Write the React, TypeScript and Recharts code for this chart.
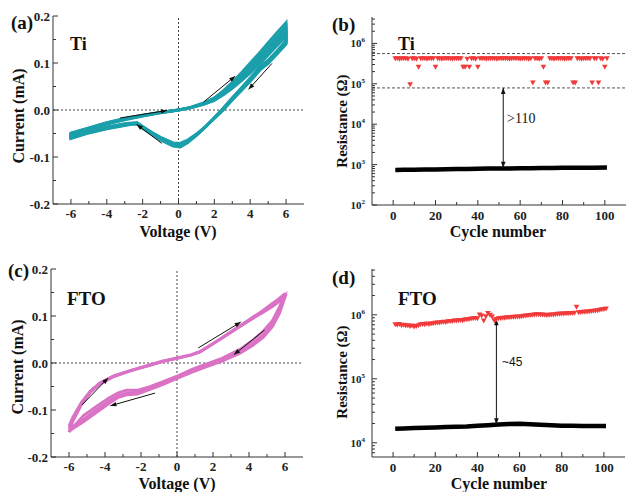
import React from 'react';
import { ComposedChart, Line, Scatter, XAxis, YAxis, ReferenceLine } from 'recharts';

const SERIF = '"Liberation Serif", "Times New Roman", serif';
const SANS = '"Liberation Sans", Arial, sans-serif';

// ---------- Data ----------
type Pt = [number, number];

// Panel (a) Ti : I-V loops (V, mA) in sweep order 0 -> 6 -> 0 -> -6 -> 0
const tiLoop1: Pt[] = [
  [0, 0], [0.7, 0.006], [1.4, 0.015], [2.0, 0.026], [2.5, 0.041], [3.0, 0.059], [3.5, 0.079], [4.0, 0.1], [4.5, 0.121], [5.0, 0.143], [5.5, 0.165], [6.0, 0.186],
  [6.0, 0.148], [5.5, 0.126], [5.0, 0.106], [4.6, 0.094], [4.0, 0.068], [3.5, 0.047], [3.0, 0.026], [2.4, 0.0], [2.0, -0.016], [1.5, -0.036], [1.0, -0.054], [0.5, -0.07], [0.1, -0.079], [-0.3, -0.077], [-1.0, -0.064], [-1.5, -0.052], [-2.0, -0.039], [-2.3, -0.03], [-2.7, -0.031], [-3.0, -0.033], [-4.0, -0.04], [-5.0, -0.049], [-6.0, -0.061],
  [-6.0, -0.053], [-5.0, -0.041], [-4.0, -0.03], [-3.0, -0.021], [-2.0, -0.013], [-1.0, -0.006], [0, 0],
];
const tiLoop2: Pt[] = [
  [0, 0], [0.7, 0.0055], [1.4, 0.014], [2.0, 0.0245], [2.5, 0.038], [3.0, 0.055], [3.5, 0.074], [4.0, 0.094], [4.5, 0.114], [5.0, 0.136], [5.5, 0.157], [6.0, 0.178],
  [6.0, 0.146], [5.5, 0.124], [5.0, 0.104], [4.6, 0.092], [4.0, 0.066], [3.5, 0.045], [3.0, 0.024], [2.42, 0.0], [2.0, -0.0165], [1.5, -0.036], [1.0, -0.0535], [0.5, -0.0685], [0.1, -0.077], [-0.3, -0.075], [-1.0, -0.0625], [-1.5, -0.0505], [-2.0, -0.038], [-2.3, -0.029], [-2.7, -0.03], [-3.0, -0.032], [-4.0, -0.039], [-5.0, -0.048], [-6.0, -0.0595],
  [-6.0, -0.0515], [-5.0, -0.04], [-4.0, -0.029], [-3.0, -0.02], [-2.0, -0.0125], [-1.0, -0.0055], [0, 0],
];
const tiLoop3: Pt[] = [
  [0, 0], [0.7, 0.005], [1.4, 0.013], [2.0, 0.023], [2.5, 0.036], [3.0, 0.052], [3.5, 0.07], [4.0, 0.089], [4.5, 0.108], [5.0, 0.129], [5.5, 0.15], [6.0, 0.171],
  [6.0, 0.144], [5.5, 0.122], [5.0, 0.102], [4.6, 0.09], [4.0, 0.064], [3.5, 0.044], [3.0, 0.023], [2.45, 0.0], [2.0, -0.017], [1.5, -0.036], [1.0, -0.053], [0.5, -0.067], [0.1, -0.075], [-0.3, -0.073], [-1.0, -0.061], [-1.5, -0.049], [-2.0, -0.037], [-2.3, -0.028], [-2.7, -0.029], [-3.0, -0.031], [-4.0, -0.038], [-5.0, -0.047], [-6.0, -0.058],
  [-6.0, -0.05], [-5.0, -0.039], [-4.0, -0.028], [-3.0, -0.019], [-2.0, -0.012], [-1.0, -0.005], [0, 0],
];
const tiLoop4: Pt[] = [
  [0, 0], [0.7, 0.005], [1.4, 0.0125], [2.0, 0.0215], [2.5, 0.034], [3.0, 0.049], [3.5, 0.066], [4.0, 0.084], [4.5, 0.1025], [5.0, 0.123], [5.5, 0.1435], [6.0, 0.164],
  [6.0, 0.142], [5.5, 0.1205], [5.0, 0.1005], [4.6, 0.0885], [4.0, 0.0625], [3.5, 0.0425], [3.0, 0.022], [2.47, 0.0], [2.0, -0.0175], [1.5, -0.0355], [1.0, -0.052], [0.5, -0.0655], [0.1, -0.073], [-0.3, -0.0715], [-1.0, -0.0595], [-1.5, -0.048], [-2.0, -0.036], [-2.3, -0.0275], [-2.7, -0.0285], [-3.0, -0.03], [-4.0, -0.037], [-5.0, -0.046], [-6.0, -0.057],
  [-6.0, -0.0495], [-5.0, -0.0385], [-4.0, -0.0275], [-3.0, -0.0185], [-2.0, -0.0115], [-1.0, -0.005], [0, 0],
];
const tiLoop5: Pt[] = [
  [0, 0], [0.7, 0.005], [1.4, 0.012], [2.0, 0.02], [2.5, 0.032], [3.0, 0.046], [3.5, 0.062], [4.0, 0.079], [4.5, 0.097], [5.0, 0.117], [5.5, 0.137], [6.0, 0.157],
  [6.0, 0.14], [5.5, 0.119], [5.0, 0.099], [4.6, 0.087], [4.0, 0.061], [3.5, 0.041], [3.0, 0.021], [2.5, 0.0], [2.0, -0.018], [1.5, -0.035], [1.0, -0.051], [0.5, -0.064], [0.1, -0.071], [-0.3, -0.07], [-1.0, -0.058], [-1.5, -0.047], [-2.0, -0.035], [-2.3, -0.027], [-2.7, -0.028], [-3.0, -0.029], [-4.0, -0.036], [-5.0, -0.045], [-6.0, -0.056],
  [-6.0, -0.049], [-5.0, -0.038], [-4.0, -0.027], [-3.0, -0.018], [-2.0, -0.011], [-1.0, -0.005], [0, 0],
];
// sweep arrows for (a): [V1, I1, V2, I2] (head at second point)
const tiArrows: number[][] = [
  [-3.26, -0.017, -0.65, -0.001],
  [-0.93, -0.071, -2.33, -0.031],
  [1.4, 0.017, 3.16, 0.072],
  [5.21, 0.099, 3.91, 0.044],
];

// Panel (c) FTO : I-V loops in sweep order -6 -> 6 (upper) -> -6 (lower)
const ftoLoop1: Pt[] = [
  [-6, -0.147], [-5.8, -0.125], [-5.3, -0.088], [-4.8, -0.062], [-4.3, -0.045], [-3.5, -0.029], [-2.5, -0.016], [-1.5, -0.005], [-0.8, 0.003], [0, 0.01], [0.8, 0.017], [1.3, 0.024], [1.8, 0.036], [2.5, 0.053], [3.2, 0.07], [4.0, 0.09], [4.7, 0.108], [5.3, 0.125], [6.0, 0.148],
  [5.7, 0.12], [5.3, 0.09], [4.8, 0.068], [4.2, 0.048], [3.5, 0.029], [2.5, 0.01], [1.5, -0.004], [0.8, -0.014], [0, -0.028], [-0.8, -0.04], [-1.5, -0.05], [-2.2, -0.058], [-2.8, -0.058], [-3.3, -0.064], [-3.8, -0.075], [-4.5, -0.093], [-5.2, -0.112], [-6.0, -0.147],
];
const ftoLoop2: Pt[] = [
  [-6, -0.14], [-5.8, -0.12], [-5.3, -0.085], [-4.8, -0.06], [-4.3, -0.043], [-3.5, -0.027], [-2.5, -0.015], [-1.5, -0.004], [-0.8, 0.004], [0, 0.011], [0.8, 0.018], [1.3, 0.025], [1.8, 0.037], [2.5, 0.054], [3.2, 0.072], [4.0, 0.092], [4.7, 0.11], [5.3, 0.127], [6.0, 0.145],
  [5.7, 0.112], [5.3, 0.082], [4.8, 0.06], [4.2, 0.041], [3.5, 0.024], [2.5, 0.006], [1.5, -0.008], [0.8, -0.018], [0, -0.031], [-0.8, -0.043], [-1.5, -0.053], [-2.2, -0.062], [-2.8, -0.064], [-3.3, -0.07], [-3.8, -0.082], [-4.5, -0.1], [-5.2, -0.12], [-6.0, -0.14],
];
const ftoLoop3: Pt[] = [
  [-6, -0.134], [-5.8, -0.116], [-5.3, -0.083], [-4.8, -0.059], [-4.3, -0.043], [-3.5, -0.027], [-2.5, -0.015], [-1.5, -0.004], [-0.8, 0.004], [0, 0.01], [0.8, 0.017], [1.3, 0.024], [1.8, 0.036], [2.5, 0.053], [3.2, 0.071], [4.0, 0.09], [4.7, 0.106], [5.3, 0.12], [6.0, 0.14],
  [5.7, 0.106], [5.3, 0.077], [4.8, 0.055], [4.2, 0.037], [3.5, 0.021], [2.5, 0.004], [1.5, -0.01], [0.8, -0.02], [0, -0.033], [-0.8, -0.046], [-1.5, -0.056], [-2.2, -0.066], [-2.8, -0.068], [-3.3, -0.074], [-3.8, -0.087], [-4.5, -0.106], [-5.2, -0.125], [-6.0, -0.145],
];
const ftoArrows: number[][] = [
  [-5.27, -0.089, -3.83, -0.032],
  [-1.22, -0.064, -3.7, -0.091],
  [1.18, 0.032, 3.54, 0.087],
  [4.86, 0.07, 3.17, 0.018],
];

// Panel (b) Ti : resistance (Ohm) per cycle, cycles 1..101
const tiHRS: number[] = [
  4.2e5, 4.2e5, 4.1e5, 4.2e5, 4.2e5, 4.2e5, 4.1e5, 9.5e4, 4.2e5, 4.2e5,
  4.1e5, 2.6e5, 4.2e5, 4.2e5, 4.2e5, 4.1e5, 4.2e5, 4.2e5, 4.2e5, 2.6e5,
  4.2e5, 4.2e5, 4.1e5, 4.2e5, 4.2e5, 4.2e5, 4.2e5, 4.1e5, 4.2e5, 4.2e5,
  4.2e5, 4.2e5, 2.6e5, 2.6e5, 4.1e5, 2.6e5, 4.2e5, 4.2e5, 4.1e5, 2.6e5,
  4.2e5, 4.2e5, 4.2e5, 4.1e5, 4.2e5, 4.2e5, 4.2e5, 4.2e5, 4.1e5, 4.2e5,
  4.2e5, 4.2e5, 4.2e5, 4.2e5, 4.1e5, 4.2e5, 4.2e5, 4.2e5, 4.2e5, 4.1e5,
  4.2e5, 4.2e5, 4.2e5, 4.1e5, 4.2e5, 1.05e5, 4.2e5, 4.2e5, 4.1e5, 4.2e5,
  2.6e5, 1.05e5, 1.05e5, 4.2e5, 4.2e5, 4.1e5, 4.2e5, 4.2e5, 4.2e5, 4.2e5,
  4.1e5, 4.2e5, 4.2e5, 4.2e5, 1.05e5, 1.05e5, 4.2e5, 4.2e5, 4.1e5, 4.2e5,
  4.2e5, 4.2e5, 4.2e5, 1.05e5, 4.2e5, 4.2e5, 1.05e5, 4.2e5, 4.1e5, 2.6e5,
  4.2e5,
];
const tiLRSCycles: number[] = [1, 5, 10, 15, 20, 25, 30, 35, 40, 45, 50, 55, 60, 65, 70, 75, 80, 85, 90, 95, 101];
const tiLRS: number[] = [740, 745, 750, 755, 760, 770, 775, 780, 790, 795, 800, 805, 810, 815, 820, 825, 830, 830, 835, 840, 845];

// Panel (d) FTO
const ftoHRS: number[] = [
  7.0e5, 6.9e5, 7.1e5, 6.8e5, 6.9e5, 6.7e5, 6.8e5, 6.6e5, 6.7e5, 6.5e5,
  6.6e5, 6.8e5, 7.0e5, 7.1e5, 7.0e5, 7.2e5, 7.1e5, 7.2e5, 7.3e5, 7.4e5,
  7.5e5, 7.5e5, 7.6e5, 7.7e5, 7.6e5, 7.8e5, 7.9e5, 7.9e5, 8.0e5, 8.0e5,
  8.1e5, 8.2e5, 8.1e5, 8.3e5, 8.4e5, 8.5e5, 8.6e5, 8.7e5, 8.8e5, 8.7e5,
  1.0e6, 9.6e5, 8.0e5, 9.4e5, 1.05e6, 9.9e5, 9.3e5, 8.1e5, 8.5e5, 8.7e5,
  8.8e5, 8.9e5, 8.9e5, 9.0e5, 9.0e5, 9.1e5, 9.2e5, 9.2e5, 9.3e5, 9.3e5,
  9.4e5, 9.5e5, 9.6e5, 9.7e5, 9.8e5, 9.9e5, 1.0e6, 1.01e6, 1.01e6, 1.0e6,
  1.0e6, 9.9e5, 9.8e5, 9.9e5, 1.0e6, 1.0e6, 1.01e6, 1.02e6, 1.02e6, 1.03e6,
  1.03e6, 1.04e6, 1.04e6, 1.05e6, 1.05e6, 1.06e6, 1.32e6, 1.08e6, 1.09e6, 1.1e6,
  1.1e6, 1.11e6, 1.12e6, 1.13e6, 1.14e6, 1.15e6, 1.16e6, 1.18e6, 1.2e6, 1.22e6,
  1.24e6,
];
const ftoLRSCycles: number[] = [1, 5, 10, 15, 20, 25, 30, 35, 40, 45, 50, 55, 60, 65, 70, 75, 80, 85, 90, 95, 101];
const ftoLRS: number[] = [1.66e4, 1.68e4, 1.7e4, 1.72e4, 1.74e4, 1.76e4, 1.78e4, 1.8e4, 1.84e4, 1.88e4, 1.93e4, 1.97e4, 1.98e4, 1.95e4, 1.92e4, 1.88e4, 1.85e4, 1.84e4, 1.83e4, 1.83e4, 1.83e4];

// Ticks
const IV_X_TICKS = [-6, -5, -4, -3, -2, -1, 0, 1, 2, 3, 4, 5, 6];
const IV_Y_TICKS = [-0.2, -0.15, -0.1, -0.05, 0, 0.05, 0.1, 0.15, 0.2];
const CYC_TICKS = [0, 10, 20, 30, 40, 50, 60, 70, 80, 90, 100];
const TI_R_TICKS = [
  100, 200, 300, 400, 500, 600, 700, 800, 900,
  1e3, 2e3, 3e3, 4e3, 5e3, 6e3, 7e3, 8e3, 9e3,
  1e4, 2e4, 3e4, 4e4, 5e4, 6e4, 7e4, 8e4, 9e4,
  1e5, 2e5, 3e5, 4e5, 5e5, 6e5, 7e5, 8e5, 9e5,
  1e6, 2e6, 3e6, 4e6,
];
const FTO_R_TICKS = [
  7e3, 8e3, 9e3,
  1e4, 2e4, 3e4, 4e4, 5e4, 6e4, 7e4, 8e4, 9e4,
  1e5, 2e5, 3e5, 4e5, 5e5, 6e5, 7e5, 8e5, 9e5,
  1e6, 2e6, 3e6, 4e6, 5e6,
];

// ---------- helpers ----------
const toVI = (pts: Pt[]) => pts.map(([v, i]) => ({ v, i }));
const toCR = (vals: number[], cycles?: number[]) => vals.map((r, k) => ({ c: cycles ? cycles[k] : k + 1, r }));

const tickText = { fontFamily: SERIF, fontWeight: 700, fontSize: 13, fill: '#222' };
const AX = '#333';

function ArrowShape(props: any) {
  const { x1, y1, x2, y2, both } = props;
  const dx = x2 - x1, dy = y2 - y1;
  const len = Math.hypot(dx, dy) || 1;
  const ux = dx / len, uy = dy / len;
  const head = (x: number, y: number, ax: number, ay: number) => {
    const L = 6, W = 2.3;
    const bx = x - ax * L, by = y - ay * L;
    return `${x},${y} ${bx - ay * W},${by + ax * W} ${bx + ay * W},${by - ax * W}`;
  };
  return (
    <g>
      <line x1={x1} y1={y1} x2={x2} y2={y2} stroke="#111" strokeWidth={1} />
      <polygon points={head(x2, y2, ux, uy)} fill="#111" />
      {both && <polygon points={head(x1, y1, -ux, -uy)} fill="#111" />}
    </g>
  );
}

function IVXTick(p: any) {
  const v = p.payload.value;
  const major = Math.abs(v % 2) < 1e-9;
  return (
    <g>
      <line x1={p.x} x2={p.x} y1={p.y} y2={p.y - (major ? 5 : 3)} stroke={AX} />
      {major && (
        <text x={p.x} y={p.y + 14} textAnchor="middle" style={tickText}>{String(v)}</text>
      )}
    </g>
  );
}
function IVYTick(p: any) {
  const v = p.payload.value;
  const major = Math.abs(Math.round(v * 10) - v * 10) < 1e-6;
  return (
    <g>
      <line x1={p.x} x2={p.x + (major ? 5 : 3)} y1={p.y} y2={p.y} stroke={AX} />
      {major && (
        <text x={p.x - 3} y={p.y + 4.5} textAnchor="end" style={tickText}>{v.toFixed(1)}</text>
      )}
    </g>
  );
}
function CycXTick(p: any) {
  const v = p.payload.value;
  const major = v % 20 === 0;
  return (
    <g>
      <line x1={p.x} x2={p.x} y1={p.y} y2={p.y - (major ? 5 : 3)} stroke={AX} />
      {major && (
        <text x={p.x} y={p.y + 15} textAnchor="middle" style={tickText}>{String(v)}</text>
      )}
    </g>
  );
}
function LogYTick(p: any) {
  const v = p.payload.value;
  const e = Math.log10(v);
  const major = Math.abs(e - Math.round(e)) < 1e-6;
  return (
    <g>
      <line x1={p.x} x2={p.x + (major ? 5 : 3)} y1={p.y} y2={p.y} stroke={AX} />
      {major && (
        <text x={p.x - 7} y={p.y + 4} textAnchor="end" style={{ ...tickText, fontSize: 11 }}>
          10<tspan dy={-5} fontSize={7}>{String(Math.round(e))}</tspan>
        </text>
      )}
    </g>
  );
}

function IVPanel(props: any) {
  const { left, top, width, height, margin, yw, xh, loops, color, arrows } = props;
  return (
    <div style={{ position: 'absolute', left, top }}>
      <ComposedChart width={width} height={height} margin={margin}>
        <XAxis xAxisId="b" type="number" dataKey="v" domain={[-7, 7]} ticks={IV_X_TICKS} interval={0}
          tickSize={0} tickMargin={0} tick={(t: any) => <IVXTick {...t} />} tickLine={false}
          height={xh} axisLine={{ stroke: AX }} allowDataOverflow />
        <XAxis xAxisId="t" orientation="top" type="number" domain={[-7, 7]} height={0} tick={false}
          tickLine={false} axisLine={{ stroke: AX }} />
        <YAxis yAxisId="l" type="number" domain={[-0.2, 0.2]} ticks={IV_Y_TICKS} interval={0}
          tickSize={0} tickMargin={0} tick={(t: any) => <IVYTick {...t} />} tickLine={false}
          width={yw} axisLine={{ stroke: AX }} allowDataOverflow />
        <YAxis yAxisId="r" orientation="right" type="number" domain={[-0.2, 0.2]} width={0} tick={false}
          tickLine={false} axisLine={{ stroke: AX }} />
        <ReferenceLine xAxisId="b" yAxisId="l" x={0} stroke="#444" strokeDasharray="2 2" />
        <ReferenceLine xAxisId="b" yAxisId="l" y={0} stroke="#444" strokeDasharray="2 2" />
        {loops.map((lp: Pt[], k: number) => (
          <Line key={k} xAxisId="b" yAxisId="l" data={toVI(lp)} dataKey="i" type="linear"
            stroke={color} strokeWidth={2.8} dot={false} activeDot={false} isAnimationActive={false} />
        ))}
        {arrows.map((a: number[], k: number) => (
          <ReferenceLine key={'a' + k} xAxisId="b" yAxisId="l"
            segment={[{ x: a[0], y: a[1] }, { x: a[2], y: a[3] }]}
            shape={(sp: any) => <ArrowShape {...sp} />} />
        ))}
      </ComposedChart>
    </div>
  );
}

function TriDown(p: any) {
  const { cx, cy } = p;
  if (cx == null || cy == null) return null;
  return <polygon points={`${cx - 2.8},${cy - 2.4} ${cx + 2.8},${cy - 2.4} ${cx},${cy + 2.6}`} fill="#f23a3a" />;
}

function ResPanel(props: any) {
  const { left, top, width, height, margin, yw, xh, yDomain, yTicks, hrs, lrs, dashed, arrow } = props;
  return (
    <div style={{ position: 'absolute', left, top }}>
      <ComposedChart width={width} height={height} margin={margin}>
        <XAxis xAxisId="b" type="number" dataKey="c" domain={[-10, 110]} ticks={CYC_TICKS} interval={0}
          tickSize={0} tickMargin={0} tick={(t: any) => <CycXTick {...t} />} tickLine={false}
          height={xh} axisLine={{ stroke: AX }} allowDataOverflow />
        <XAxis xAxisId="t" orientation="top" type="number" domain={[-10, 110]} height={0} tick={false}
          tickLine={false} axisLine={{ stroke: AX }} />
        <YAxis yAxisId="l" type="number" dataKey="r" scale="log" domain={yDomain} ticks={yTicks} interval={0}
          tickSize={0} tickMargin={0} tick={(t: any) => <LogYTick {...t} />} tickLine={false}
          width={yw} axisLine={{ stroke: AX }} allowDataOverflow />
        <YAxis yAxisId="r" orientation="right" type="number" scale="log" domain={yDomain} width={0} tick={false}
          tickLine={false} axisLine={{ stroke: AX }} allowDataOverflow />
        {dashed.map((d: number, k: number) => (
          <ReferenceLine key={'d' + k} xAxisId="b" yAxisId="l" y={d} stroke="#555" strokeDasharray="3 2" />
        ))}
        <Line xAxisId="b" yAxisId="l" data={lrs} dataKey="r" type="linear" stroke="#000" strokeWidth={4.5}
          dot={false} activeDot={false} isAnimationActive={false} />
        <Scatter xAxisId="b" yAxisId="l" data={hrs} dataKey="r" shape={(s: any) => <TriDown {...s} />}
          isAnimationActive={false} />
        <ReferenceLine xAxisId="b" yAxisId="l"
          segment={[{ x: arrow[0], y: arrow[1] }, { x: arrow[0], y: arrow[2] }]}
          shape={(sp: any) => <ArrowShape {...sp} both />} />
      </ComposedChart>
    </div>
  );
}

const bold = { fontFamily: SERIF, fontWeight: 700, fill: '#111' } as const;

export default function App() {
  return (
    <div style={{ position: 'absolute', left: 0, top: 0, width: 626, height: 492, background: '#fff' }}>
      <IVPanel left={0} top={0} width={313} height={245} margin={{ top: 16, right: 9, bottom: 0, left: 0 }}
        yw={53} xh={41} loops={[tiLoop1, tiLoop2, tiLoop3, tiLoop4, tiLoop5]} color="#1b9fab" arrows={tiArrows} />
      <IVPanel left={0} top={245} width={313} height={247} margin={{ top: 24, right: 10, bottom: 0, left: 0 }}
        yw={51} xh={35} loops={[ftoLoop1, ftoLoop2, ftoLoop3]} color="#da72c5" arrows={ftoArrows} />
      <ResPanel left={313} top={0} width={313} height={245} margin={{ top: 17, right: 0, bottom: 0, left: 0 }}
        yw={59} xh={40} yDomain={[100, 4.5e6]} yTicks={TI_R_TICKS}
        hrs={toCR(tiHRS)} lrs={toCR(tiLRS, tiLRSCycles)} dashed={[5.6e5, 7.9e4]} arrow={[52, 7.9e4, 830]} />
      <ResPanel left={313} top={245} width={313} height={247} margin={{ top: 24, right: 1, bottom: 0, left: 0 }}
        yw={59} xh={35} yDomain={[6e3, 5.2e6]} yTicks={FTO_R_TICKS}
        hrs={toCR(ftoHRS)} lrs={toCR(ftoLRS, ftoLRSCycles)} dashed={[]} arrow={[49, 8.5e5, 1.95e4]} />
      <svg width={626} height={492} style={{ position: 'absolute', left: 0, top: 0, pointerEvents: 'none' }}>
        <text x={11} y={29} style={{ ...bold, fontSize: 19 }}>(a)</text>
        <text x={70} y={50} style={{ ...bold, fontSize: 18 }}>Ti</text>
        <text x={332} y={31} style={{ ...bold, fontSize: 19 }}>(b)</text>
        <text x={398} y={50} style={{ ...bold, fontSize: 18 }}>Ti</text>
        <text x={8} y={277} style={{ ...bold, fontSize: 19 }}>(c)</text>
        <text x={67} y={305} style={{ ...bold, fontSize: 19 }}>FTO</text>
        <text x={332} y={284} style={{ ...bold, fontSize: 19 }}>(d)</text>
        <text x={398} y={305} style={{ ...bold, fontSize: 19 }}>FTO</text>

        <text transform="translate(24,116) rotate(-90)" textAnchor="middle" style={{ ...bold, fontSize: 16 }}>Current (mA)</text>
        <text transform="translate(23,367) rotate(-90)" textAnchor="middle" style={{ ...bold, fontSize: 16 }}>Current (mA)</text>
        <text transform="translate(347,121) rotate(-90)" textAnchor="middle" style={{ ...bold, fontSize: 15 }}>Resistance (Ω)</text>
        <text transform="translate(347,372) rotate(-90)" textAnchor="middle" style={{ ...bold, fontSize: 15 }}>Resistance (Ω)</text>

        <text x={178} y={237} textAnchor="middle" style={{ ...bold, fontSize: 16 }}>Voltage (V)</text>
        <text x={177} y={489} textAnchor="middle" style={{ ...bold, fontSize: 16 }}>Voltage (V)</text>
        <text x={498} y={237} textAnchor="middle" style={{ ...bold, fontSize: 16 }}>Cycle number</text>
        <text x={499} y={489} textAnchor="middle" style={{ ...bold, fontSize: 16 }}>Cycle number</text>

        <text x={507} y={123} style={{ fontFamily: SERIF, fontSize: 14, fill: '#111' }}>&gt;110</text>
        <text x={502} y={366} style={{ fontFamily: SANS, fontSize: 12, fill: '#111' }}>~45</text>
      </svg>
    </div>
  );
}
